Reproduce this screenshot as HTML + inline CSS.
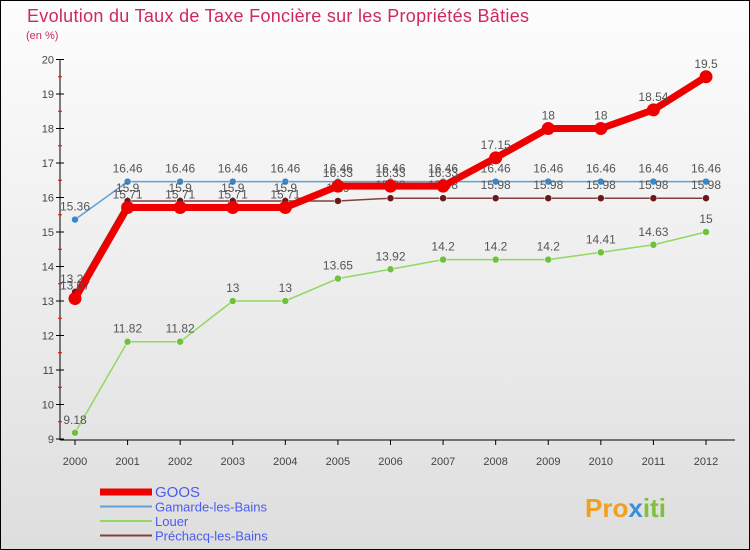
<!DOCTYPE html>
<html><head><meta charset="utf-8"><style>
body{margin:0;width:750px;height:550px;overflow:hidden;font-family:"Liberation Sans",sans-serif}
svg{display:block}
</style></head><body>
<svg id="c" width="750" height="550" xmlns="http://www.w3.org/2000/svg">
<defs><linearGradient id="bg" x1="0" y1="0" x2="0" y2="1"><stop offset="0" stop-color="#fdfdfd"/><stop offset="1" stop-color="#dedede"/></linearGradient></defs>
<rect x="0.5" y="0.5" width="749" height="549" fill="url(#bg)" stroke="#000"/>
<text x="27" y="22" font-size="18" fill="#d0285a" textLength="502">Evolution du Taux de Taxe Foncière sur les Propriétés Bâties</text>
<text x="26" y="39" font-size="11" fill="#d0285a">(en %)</text>
<g id="axes"></g><g id="series"></g><g id="legend"></g>
<text x="585" y="517" font-size="26" font-weight="bold" fill="#f0a020">Pro<tspan fill="#3a8fd8">x</tspan><tspan fill="#80c040">iti</tspan></text>
</svg>
<script>
const years=[2000,2001,2002,2003,2004,2005,2006,2007,2008,2009,2010,2011,2012];
const goos=[13.07,15.71,15.71,15.71,15.71,16.33,16.33,16.33,17.15,18,18,18.54,19.5];
const gamarde=[15.36,16.46,16.46,16.46,16.46,16.46,16.46,16.46,16.46,16.46,16.46,16.46,16.46];
const louer=[9.18,11.82,11.82,13,13,13.65,13.92,14.2,14.2,14.2,14.41,14.63,15];
const prechacq=[13.26,15.9,15.9,15.9,15.9,15.9,15.98,15.98,15.98,15.98,15.98,15.98,15.98];
const yTicks=[9,10,11,12,13,14,15,16,17,18,19,20];
const names=["GOOS","Gamarde-les-Bains","Louer","Préchacq-les-Bains"];
const NS="http://www.w3.org/2000/svg";
const X=i=>75+i*(706-75)/(years.length-1);
const Y=v=>439-(v-9)*(439-59.5)/11;
function mk(p,t,a){const e=document.createElementNS(NS,t);for(const k in a)e.setAttribute(k,a[k]);p.appendChild(e);return e;}
const ax=document.getElementById('axes');
let l=mk(ax,'line',{x1:60,y1:Y(20),x2:60,y2:440,stroke:'#000'});


l=mk(ax,'line',{x1:60,y1:440,x2:735,y2:440,stroke:'#000'});


yTicks.forEach(v=>{
 mk(ax,'line',{x1:56,y1:Y(v),x2:64,y2:Y(v),stroke:'#000'});
 if(v<20) mk(ax,'line',{x1:58,y1:Y(v+0.5),x2:62,y2:Y(v+0.5),stroke:'#e00'});
 const t=mk(ax,'text',{x:54,y:Y(v)+4,'font-size':11,'text-anchor':'end',fill:'#444'});t.textContent=v;
 
 
});
years.forEach((y,i)=>{
 mk(ax,'line',{x1:X(i),y1:440,x2:X(i),y2:445,stroke:'#000'});
 const t=mk(ax,'text',{x:X(i),y:465,'font-size':11,'text-anchor':'middle',fill:'#444'});t.textContent=y;
 
 
});
const S=document.getElementById('series');
const defs=[[louer,'#90d860',1.5,3.5,'#70c040'],[gamarde,'#60a0d8',1.5,3.5,'#3a88c8'],[prechacq,'#804040',1.5,3.5,'#6a1818'],[goos,'#ee0000',7,6.5,'#ee0000']];
const nm=['louer','gamarde','prechacq','goos'];
defs.forEach((d,k)=>{
 const [vals,col,w,r,fill]=d;
 const pl=mk(S,'polyline',{points:vals.map((v,i)=>X(i)+','+Y(v)).join(' '),fill:'none',stroke:col,'stroke-width':w,'stroke-linejoin':'round'});
 
 
 vals.forEach((v,i)=>{
  const c=mk(S,'circle',{cx:X(i),cy:Y(v),r:r,fill:fill,stroke:k==3?'none':'#fff','stroke-width':0.5});
  
  
  const t=mk(S,'text',{x:X(i),y:Y(v)-9,'font-size':12,'text-anchor':'middle',fill:'#555'});t.textContent=v;
  
  
 });
});
const L=document.getElementById('legend');
const lc=[['#ee0000',7],['#60a0d8',2],['#90d860',2],['#804040',2]];
names.forEach((n,i)=>{
 const y=492+i*14.5;
 const g=mk(L,'g',{});
 
 
 mk(g,'line',{x1:100,y1:y,x2:152,y2:y,stroke:lc[i][0],'stroke-width':lc[i][1]});
 const t=mk(g,'text',{x:155,y:y+5,'font-size':i==0?15:13,fill:'#4a5cf0'});t.textContent=n;
});
</script>
</body></html>
